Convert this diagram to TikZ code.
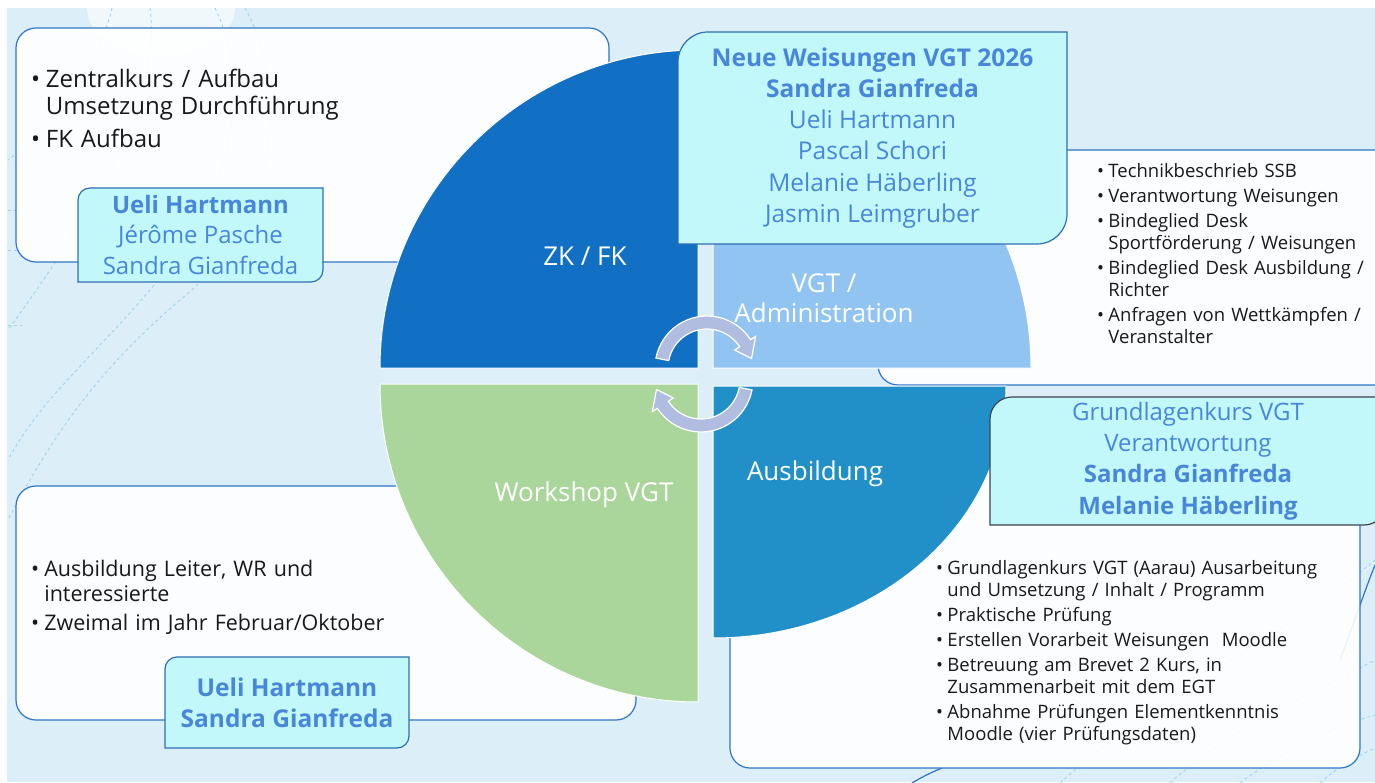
\documentclass[tikz,border=0pt]{standalone}
\usepackage{fontspec}
\setmainfont{Open Sans}
\usetikzlibrary{calc,backgrounds}
\definecolor{vgtbg}{RGB}{220,238,247}
\definecolor{vgtboxline}{RGB}{46,117,200}
\definecolor{vgtnamefill}{RGB}{194,248,250}
\definecolor{vgtnameline}{RGB}{47,110,180}
\definecolor{vgtnametext}{RGB}{72,134,218}
\definecolor{vgtdarkline}{RGB}{60,68,78}
\definecolor{vgtzk}{RGB}{17,112,196}
\definecolor{vgtadmin}{RGB}{146,196,242}
\definecolor{vgtworkshop}{RGB}{170,213,155}
\definecolor{vgtausb}{RGB}{34,144,200}
\definecolor{vgtarrow}{RGB}{176,188,224}
\definecolor{vgtdeco}{RGB}{160,210,238}
\definecolor{vgttext}{RGB}{25,25,25}

% bullet item with hanging indent
\newcommand{\bul}[1]{\par\hangindent=0.62em\hangafter=1\noindent\makebox[0.62em][l]{\textbullet}#1\par}
% name box frame, rounded top left and bottom right
\newcommand{\diagframe}[3][namebox]{%
  \draw[#1] (#2.south west) -- ($(#2.north west)+(0,#3)$)
    arc[start angle=180, end angle=270, radius=#3] -- (#2.north east)
    -- ($(#2.south east)-(0,#3)$)
    arc[start angle=0, end angle=90, radius=#3] -- cycle;}

\begin{document}
\begin{tikzpicture}[x=1pt, y=-1pt,
  bullets/.style={anchor=north west, inner sep=0, outer sep=0, align=left, text=vgttext, text width=#1},
  namelbl/.style={inner sep=0, outer sep=0, align=center, text=vgtnametext},
  quadlbl/.style={text=white, align=center, font=\fontsize{26}{30}\selectfont},
  namebox/.style={fill=vgtnamefill, draw=vgtnameline, line width=1.2},
  whitebox/.style={fill=white, fill opacity=0.9, draw=vgtboxline, line width=1.2, rounded corners=20},
  quad/.style={draw=white, line width=1},
  deco/.style={vgtdeco, dashed, line width=0.9},
  turn/.style={fill=vgtarrow, draw=white, line width=1.2}]
\useasboundingbox (0,0) rectangle (1375,783);
% Bullet lists
\node[bullets=420, font={\fontsize{24}{27}\selectfont\setlength{\parskip}{6pt}}] (zkitems) at (31,55)
  {\bul{Zentralkurs / Aufbau\newline Umsetzung Durchführung}\bul{FK Aufbau}};
\node[bullets=300, font={\fontsize{18.5}{22}\selectfont\setlength{\parskip}{3pt}}] (adminitems) at (1097,153)
  {\bul{Technikbeschrieb SSB}\bul{Verantwortung Weisungen}\bul{Bindeglied Desk\newline Sportförderung / Weisungen}%
   \bul{Bindeglied Desk Ausbildung /\newline Richter}\bul{Anfragen von Wettkämpfen /\newline Veranstalter}};
\node[bullets=420, font={\fontsize{21.5}{25}\selectfont\setlength{\parskip}{4pt}}] (wsitems) at (31,547)
  {\bul{Ausbildung Leiter, WR und\newline interessierte}\bul{Zweimal im Jahr Februar/Oktober}};
\node[bullets=420, font={\fontsize{18.5}{22}\selectfont\setlength{\parskip}{3pt}}] (ausbitems) at (936,549)
  {\bul{Grundlagenkurs VGT (Aarau) Ausarbeitung\newline und Umsetzung / Inhalt / Programm}\bul{Praktische Prüfung}%
   \bul{Erstellen Vorarbeit Weisungen\ \ Moodle}\bul{Betreuung am Brevet 2 Kurs, in\newline Zusammenarbeit mit dem EGT}%
   \bul{Abnahme Prüfungen Elementkenntnis\newline Moodle (vier Prüfungsdaten)}};
% Names
\node[namelbl, minimum width=245, minimum height=94, font=\fontsize{24}{30.5}\selectfont] (zknames) at (200.5,235)
  {\textbf{Ueli Hartmann}\\Jérôme Pasche\\Sandra Gianfreda};
\node[namelbl, minimum width=389, minimum height=212, font=\fontsize{24.5}{31.2}\selectfont] (adminnames) at (872.5,138)
  {\textbf{Neue Weisungen VGT 2026}\\\textbf{Sandra Gianfreda}\\Ueli Hartmann\\Pascal Schori\\Melanie Häberling\\Jasmin Leimgruber};
\node[namelbl, minimum width=244, minimum height=91, font=\fontsize{24.5}{31}\selectfont\bfseries] (wsnames) at (287,702.5)
  {Ueli Hartmann\\Sandra Gianfreda};
\node[namelbl, minimum width=396, minimum height=128, font=\fontsize{24}{31.3}\selectfont] (ausbnames) at (1188,461)
  {Grundlagenkurs VGT\\Verantwortung\\\textbf{Sandra Gianfreda}\\\textbf{Melanie Häberling}};
% Quadrant labels
\node[quadlbl] (zk) at (585,256) {ZK / FK};
\node[quadlbl] (admin) at (824,298) {VGT /\\Administration};
\node[quadlbl] (workshop) at (584,495) {Workshop VGT};
\node[quadlbl] (ausb) at (815,474) {Ausbildung};

\begin{scope}[on background layer]
% Background
\fill[white] (0,0) rectangle (1375,783);
\fill[vgtbg] (7,8) rectangle (1375,782);
\fill[white, opacity=0.6] (161,8) ellipse [x radius=74, y radius=48];
\draw[deco] (112,8) .. controls (100,60) and (60,120) .. (8,160);
\draw[deco] (150,8) .. controls (160,90) and (110,190) .. (8,330);
\draw[deco] (215,8) .. controls (245,70) and (250,170) .. (150,290) .. controls (90,360) and (40,400) .. (8,460);
\draw[deco] (245,8) .. controls (290,90) and (280,220) .. (180,300) .. controls (110,360) and (60,420) .. (8,520);
\draw[deco] (8,210) -- (30,210);
\draw[deco] (8,250) -- (28,250);
\draw[deco] (8,325) -- (22,325);
\draw[deco] (1060,783) .. controls (1150,700) and (1280,640) .. (1375,560);
\draw[deco] (1170,783) .. controls (1240,720) and (1320,690) .. (1375,660);
\draw[deco] (1240,783) .. controls (1290,745) and (1340,725) .. (1375,715);
\draw[deco] (1320,783) .. controls (1340,765) and (1360,755) .. (1375,748);
\draw[vgtboxline, line width=1.2] (1340,660) .. controls (1355,620) and (1365,590) .. (1375,565);
\draw[vgtboxline, line width=1.2] (912,783) .. controls (922,777) and (932,772) .. (942,768);
% White boxes
\draw[whitebox] (16,28) rectangle (609,262);
\draw[whitebox] (878,150) rectangle (1395,385);
\draw[whitebox] (16,486) rectangle (636,720);
\draw[whitebox] (730,420) rectangle (1360,768);
% Quadrants
\draw[quad, fill=vgtzk] (698,368) -- (380,368) arc[start angle=180, end angle=270, radius=318] -- cycle;
\draw[quad, fill=vgtadmin] (713,368) -- (713,50) arc[start angle=270, end angle=360, radius=318] -- cycle;
\draw[quad, fill=vgtworkshop] (698,384) -- (380,384) arc[start angle=180, end angle=90, radius=318] -- cycle;
\draw[quad, fill=vgtausb] (713,386) -- (1006,386) arc[start angle=0, end angle=90, x radius=293, y radius=252] -- cycle;
% Turning arrows
\foreach \cx/\cy/\a in {707/368/0, 701/380/180} {
  \begin{scope}[shift={(\cx,\cy)}]
    \draw[turn] (191+\a:52) arc[start angle=191+\a, end angle=327+\a, radius=52] -- (327+\a:58)
      -- (348+\a:45.5) -- (327+\a:33) -- (327+\a:39)
      arc[start angle=327+\a, end angle=191+\a, radius=39] -- cycle;
  \end{scope}
}
% Name boxes
\diagframe{zknames}{12}
\diagframe{adminnames}{30}
\diagframe{wsnames}{12}
\diagframe[namebox, draw=vgtdarkline]{ausbnames}{22}
\end{scope}
\end{tikzpicture}
\end{document}
